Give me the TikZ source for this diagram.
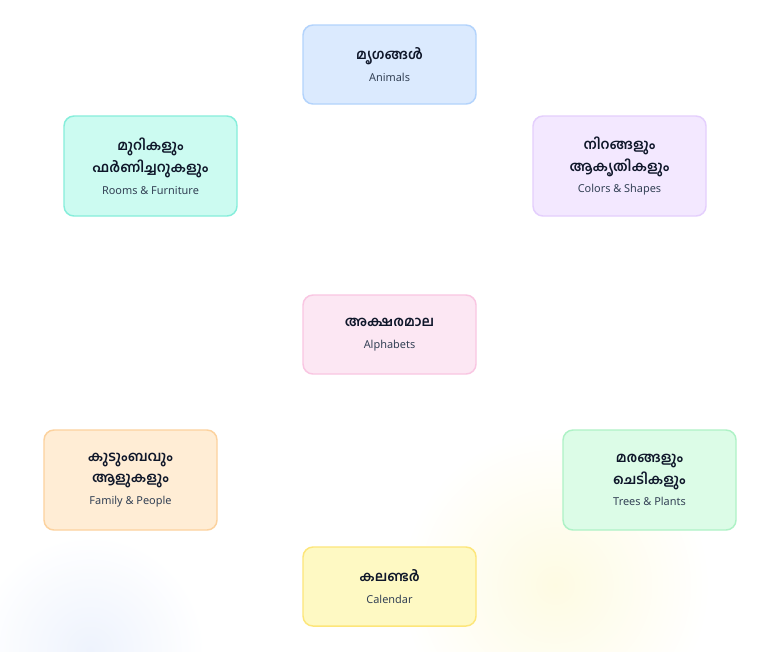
\documentclass[tikz,border=0pt]{standalone}
\usepackage{fontspec}
\setmainfont{Noto Sans}
\newfontfamily\malfont[Script=Malayalam]{Hind Kochi}
\definecolor{malink}{HTML}{0F172A}
\definecolor{engink}{HTML}{334155}
\definecolor{glowBlue}{HTML}{EEF3FD}
\definecolor{glowYellow}{HTML}{FEFBE3}
\definecolor{blueFill}{HTML}{DBEAFE}\definecolor{blueLine}{HTML}{B3D3FC}
\definecolor{tealFill}{HTML}{CCFBF1}\definecolor{tealLine}{HTML}{86EEDB}
\definecolor{purpleFill}{HTML}{F3E8FF}\definecolor{purpleLine}{HTML}{E4CFFD}
\definecolor{pinkFill}{HTML}{FCE7F3}\definecolor{pinkLine}{HTML}{F9C6E2}
\definecolor{orangeFill}{HTML}{FFEDD5}\definecolor{orangeLine}{HTML}{FCD29E}
\definecolor{greenFill}{HTML}{DCFCE7}\definecolor{greenLine}{HTML}{AEF2C6}
\definecolor{yellowFill}{HTML}{FEF9C3}\definecolor{yellowLine}{HTML}{FDE67A}
\newcommand{\mal}[1]{{\malfont\bfseries\color{malink}#1}}
\newcommand{\eng}[1]{{\fontsize{8.2}{16}\selectfont\color{engink}#1}}
\begin{document}
\begin{tikzpicture}[x=0.75pt, y=-0.75pt,
    topic/.style={draw, rounded corners=7.5pt, line width=1.1pt,
        minimum width=129.75pt, minimum height=59.25pt, align=center,
        font=\fontsize{10.4}{16.4}\selectfont},
    tall/.style={minimum height=75pt}]
    \useasboundingbox (0,0) rectangle (780,651);
    \fill[white] (0,0) rectangle (780,651);

    % soft glows in the background
    \shade[inner color=glowBlue, outer color=white] (90,650) circle (115);
    \shade[inner color=glowYellow, outer color=white] (555,585) circle (155);

    \node[topic, fill=blueFill, draw=blueLine] (animals) at (389.5,64.5)
        {\mal{മൃഗങ്ങൾ}\\ \eng{Animals}};
    \node[topic, tall, fill=tealFill, draw=tealLine] (rooms) at (150.5,166)
        {\mal{മുറികളും}\\ \mal{ഫർണിച്ചറുകളും}\\ \eng{Rooms \& Furniture}};
    \node[topic, tall, fill=purpleFill, draw=purpleLine] (shapes) at (619.5,166)
        {\mal{നിറങ്ങളും}\\ \mal{ആകൃതികളും}\\ \eng{Colors \& Shapes}};
    \node[topic, fill=pinkFill, draw=pinkLine] (alphabets) at (389.5,334.5)
        {\mal{അക്ഷരമാല}\\ \eng{Alphabets}};
    \node[topic, tall, fill=orangeFill, draw=orangeLine] (family) at (130.5,480)
        {\mal{കുടുംബവും}\\ \mal{ആളുകളും}\\ \eng{Family \& People}};
    \node[topic, tall, fill=greenFill, draw=greenLine] (plants) at (649.5,480)
        {\mal{മരങ്ങളും}\\ \mal{ചെടികളും}\\ \eng{Trees \& Plants}};
    \node[topic, fill=yellowFill, draw=yellowLine] (calendar) at (389.5,586.5)
        {\mal{കലണ്ടർ}\\ \eng{Calendar}};
\end{tikzpicture}
\end{document}
